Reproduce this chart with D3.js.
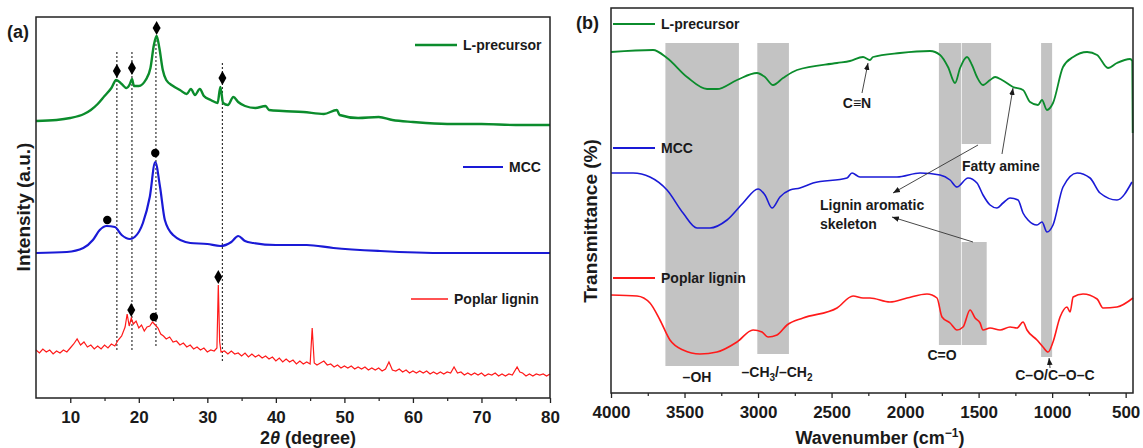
<!DOCTYPE html>
<html>
<head>
<script src="https://d3js.org/d3.v7.min.js"></script>
<style>
body { margin: 0; background: #fff; }
text { font-family: "Liberation Sans", Arial, sans-serif; font-weight: bold; fill: #1a1a1a; }
</style>
</head>
<body>
<script>
// ---- (a) XRD data: [2theta, intensity a.u.] ----
var xrdTicks = [10, 20, 30, 40, 50, 60, 70, 80];
var xrdMinor = [15, 25, 35, 45, 55, 65, 75];
var xrdGreen = [[5,138.5],[8,139],[10,140],[12,142],[13,144],[14,147],[15,151],[16,155],[16.7,159],[17.5,157],
  [18.2,155],[18.7,157],[19.0,159.5],[19.3,156],[20,156],[21,159],[21.7,165],[22.2,176.5],[22.6,181],[23.0,175],
  [23.5,164],[24,159],[25,156],[26,154],[27,152],[27.6,154.5],[28.2,151.5],[28.9,154.5],[29.5,151],[30.5,149],
  [31.5,147.5],[31.9,155.5],[32.3,147.5],[33,146.5],[33.8,150.5],[34.5,148],[35.5,146],[37,145],[38.5,146],[39,144],
  [41,143.5],[44,143],[47,142],[48.9,144],[49.3,141.5],[52,140],[55,140.5],[57,139],[60,138],[65,137],[70,137],
  [75,136.5],[80,136.5]];
var xrdBlue = [[5,72.5],[9.5,73],[11.9,75],[13.3,79],[14.3,84],[15.3,86],[16.5,85.5],[17.5,81.5],[18.7,79.5],
  [19.4,80.5],[20.6,87.5],[21.6,100.5],[22.4,118],[23.1,105.5],[23.8,89],[25,81.5],[27.5,77.5],[30,77],[31.9,76],
  [33.5,78],[34.5,81],[35.5,78.5],[36.7,77.5],[40,76.5],[44.5,76.5],[48.4,75],[55.2,73.5],[65,72.5],[80,72.5]];
var xrdRed = [[5,24],[5.5,22.5],[6,24.5],[6.5,23],[7,24],[7.5,22],[8,23.5],[8.5,22.5],[9,24],[9.5,23],[10,25],
  [10.5,27],[11,29.5],[11.5,26.5],[12,28],[12.5,25.5],[13,26.5],[13.5,24.5],[14,26],[14.5,24.5],[15,26.5],[15.5,25],
  [16,27],[16.5,26],[17,29],[17.5,31],[18,35.5],[18.3,42],[18.6,36],[18.9,40],[19.2,37],[19.6,38.5],[20,35],
  [20.4,36.5],[20.8,33.5],[21.2,35.5],[21.6,36],[22,38],[22.4,36.5],[22.8,35],[23.2,32],[23.6,31],[24,29.5],
  [24.5,30.5],[25,28],[25.5,28.5],[26,26.5],[26.5,27.5],[27,25.5],[27.5,26.5],[28,24.5],[28.5,25.5],[29,24],
  [29.5,25],[30,23],[30.5,24],[31,23.5],[31.4,25],[31.6,56.5],[31.8,28],[32,23],[32.5,23.5],[33,22],[33.5,23.5],
  [34,22],[34.5,22.5],[35,21],[35.5,22.5],[36,20.5],[36.5,22],[37,20.5],[37.5,21.5],[38,20],[38.5,21],[39,19.5],
  [39.5,20.5],[40,18.5],[40.5,20],[41,18],[41.5,19.5],[42,18],[42.5,19],[43,17],[43.5,18.5],[44,17],[44.5,18],
  [45,17],[45.3,35],[45.6,17.5],[46,16.5],[46.5,17.5],[47,18.5],[47.5,16.5],[48,17],[48.5,15.5],[49,16.5],[49.5,15],
  [50,16],[50.5,15],[51,16],[51.5,14.5],[52,15.5],[52.5,14.5],[53,15.5],[53.5,14],[54,15],[54.5,14],[55,15],
  [55.5,13.5],[56,14.5],[56.5,18],[57,14],[57.5,13.5],[58,14.5],[58.5,13],[59,14],[59.5,12.5],[60,13.5],[60.5,12.5],
  [61,13.5],[61.5,12.5],[62,13.5],[62.5,12],[63,13],[63.5,12],[64,13],[64.5,12],[65,13],[65.5,12.5],[66,15.5],
  [66.5,12.5],[67,13],[67.5,11.5],[68,12.5],[68.5,11.5],[69,12.5],[69.5,11.5],[70,12.5],[70.5,11],[71,12],
  [71.5,11.5],[72,12.5],[72.5,11],[73,12],[73.5,11],[74,12],[74.5,11.5],[75.2,15.5],[75.6,13],[76,12.5],[76.5,11],
  [77,12],[77.5,11],[78,12],[78.5,11.5],[79,12],[79.5,11],[80,12]];
var xrdDiamonds = [[16.8,163.5],[19.0,165],[22.6,185],[32.2,160],[18.9,44],[31.6,60.5]];
var xrdCircles = [[15.4,89],[22.4,122.5],[22.2,40.5]];
var xrdGuides = [[16.8,173,23],[19.0,173,23],[22.5,179,25],[32.2,167.5,18]];

// ---- (b) FTIR data: [wavenumber, transmittance a.u.] ----
var ftirTicks = [4000, 3500, 3000, 2500, 2000, 1500, 1000, 500];
var ftirMinor = [3750, 3250, 2750, 2250, 1750, 1250, 750];
var ftirGreen = [[4000,170.5],[3714,171.5],[3619,167.5],[3483,158],[3347,152],[3279,152],[3143,156.5],[3007,160],
  [2953,158],[2898,154],[2830,157.5],[2735,161.5],[2463,165],[2375,166],[2286,168],[2239,166.5],[2218,168],
  [2035,170],[1830,171],[1762,169],[1708,163],[1660,155],[1626,162.5],[1579,168],[1545,164],[1511,158],[1470,154],
  [1422,156.5],[1388,158],[1341,156.5],[1266,153],[1198,151.5],[1150,145.5],[1096,144],[1069,146.5],[1035,141.5],
  [994,145],[926,163],[857,168],[762,170.5],[694,169],[620,162.5],[559,165],[470,167],[455,166],[452,130]];
var ftirBlue = [[4000,110],[3850,110],[3735,108],[3619,101.5],[3510,90],[3415,82.5],[3327,82.5],[3211,86.5],
  [3102,95],[3000,102],[2953,99],[2905,92.5],[2851,98],[2783,101.5],[2715,102.5],[2626,105],[2395,107.5],[2361,110],
  [2307,108],[2055,108],[1898,110],[1762,109],[1694,106.5],[1647,103],[1572,107.5],[1511,105],[1470,99],[1422,94],
  [1375,92.5],[1334,95],[1286,97.5],[1232,96.5],[1198,90],[1164,86.5],[1103,84],[1069,85.5],[1035,80.5],[994,84],
  [926,103],[830,110],[742,107.5],[674,100],[559,96.5],[457,105.5]];
var ftirRed = [[4000,49],[3823,48.5],[3735,45],[3667,36.5],[3599,26.5],[3510,21.5],[3395,19.5],[3279,20.5],
  [3143,25.5],[3034,31.5],[2973,30.5],[2932,28],[2871,29],[2803,34],[2694,37.5],[2463,42.5],[2354,48.5],[2286,47.5],
  [2239,47.5],[2103,45.5],[1987,47.5],[1851,49.5],[1783,47.5],[1749,38],[1694,35],[1647,31.5],[1606,33],[1558,41.5],
  [1524,37.5],[1490,35],[1470,31.5],[1422,32.5],[1354,31.5],[1286,33],[1239,32.5],[1198,35.5],[1171,31.5],
  [1103,26.5],[1062,23],[1028,20.5],[994,25.5],[946,38],[899,43],[878,40.5],[857,48],[790,49.5],[694,47],
  [654,42.5],[559,43],[450,47.5]];
// bands: [from, to, top, bottom]
var ftirBands = [[3630,3130,175,13.5],[3005,2790,175,19.5],[1770,1620,175,24],[1615,1415,175,124.5],
  [1615,1445,75.5,24],[1075,1000,175,18]];
var ftirArrows = [[2293,150,2252,165],[1341,119.5,1266,152.5],[1504,124,2082,100],[1538,75.5,2089,88],
  [1014,12.5,1021,17.5]];

var W = 1143, H = 448;
var svg = d3.select("body").append("svg").attr("width", W).attr("height", H);

svg.append("defs").append("marker")
  .attr("id", "arr").attr("viewBox", "0 0 10 10").attr("refX", 10).attr("refY", 5)
  .attr("markerWidth", 7).attr("markerHeight", 7).attr("markerUnits", "userSpaceOnUse")
  .attr("orient", "auto")
  .append("path").attr("d", "M0,1 L10,5 L0,9 z").attr("fill", "#1a1a1a");

var green = "#0b8c2c", blue = "#1a1ad6", red = "#ff1a1a";

function drawAxis(g, x, ticks, minor, y0) {
  g.append("g").attr("transform", "translate(0," + y0 + ")")
    .call(d3.axisBottom(x).tickValues(ticks).tickSize(5).tickPadding(8).tickFormat(d3.format("d")))
    .call(function(a) {
      a.select(".domain").remove();
      a.selectAll("line").attr("stroke", "#222").attr("stroke-width", 1.3);
      a.selectAll("text").style("font-size", "17px").attr("fill", "#1a1a1a");
    });
  g.append("g").attr("transform", "translate(0," + y0 + ")")
    .call(d3.axisBottom(x).tickValues(minor).tickSize(3).tickFormat(""))
    .call(function(a) {
      a.select(".domain").remove();
      a.selectAll("line").attr("stroke", "#222").attr("stroke-width", 1.2);
    });
}

// ================= panel (a) =================
var xa = d3.scaleLinear().domain([5, 80]).range([36, 550]);
var ya = d3.scaleLinear().domain([0, 190.5]).range([398, 17]);
var ga = svg.append("g");

ga.selectAll(".guide").data(xrdGuides).enter().append("line")
  .attr("x1", function(d) { return xa(d[0]); }).attr("x2", function(d) { return xa(d[0]); })
  .attr("y1", function(d) { return ya(d[1]); }).attr("y2", function(d) { return ya(d[2]); })
  .attr("stroke", "#333").attr("stroke-width", 1.2).attr("stroke-dasharray", "2,2");

var lineA = d3.line().x(function(d) { return xa(d[0]); }).y(function(d) { return ya(d[1]); });
var lineAs = d3.line().curve(d3.curveMonotoneX).x(function(d) { return xa(d[0]); }).y(function(d) { return ya(d[1]); });

ga.append("path").attr("d", lineA(xrdRed)).attr("fill", "none").attr("stroke", red).attr("stroke-width", 1.2);
ga.append("path").attr("d", lineAs(xrdBlue)).attr("fill", "none").attr("stroke", blue).attr("stroke-width", 2.2);
ga.append("path").attr("d", lineAs(xrdGreen)).attr("fill", "none").attr("stroke", green).attr("stroke-width", 2.4);

ga.selectAll(".dia").data(xrdDiamonds).enter().append("path")
  .attr("d", d3.symbol().type(d3.symbolDiamond).size(55))
  .attr("transform", function(d) { return "translate(" + xa(d[0]) + "," + ya(d[1]) + ")"; })
  .attr("fill", "#000");
ga.selectAll(".dot").data(xrdCircles).enter().append("circle")
  .attr("cx", function(d) { return xa(d[0]); }).attr("cy", function(d) { return ya(d[1]); })
  .attr("r", 4.2).attr("fill", "#000");

ga.append("rect").attr("x", 36).attr("y", 17).attr("width", 514).attr("height", 381)
  .attr("fill", "none").attr("stroke", "#222").attr("stroke-width", 1.5);
drawAxis(ga, xa, xrdTicks, xrdMinor, 398);

var legA = [["L-precursor", green, 415, 457, 45, 2.4], ["MCC", blue, 463, 503, 167, 2.2], ["Poplar lignin", red, 411, 448, 299, 1.5]];
legA.forEach(function(l) {
  ga.append("line").attr("x1", l[2]).attr("x2", l[3]).attr("y1", l[4]).attr("y2", l[4])
    .attr("stroke", l[1]).attr("stroke-width", l[5]);
  ga.append("text").attr("x", l[3] + 6).attr("y", l[4] + 5).style("font-size", "14px").text(l[0]);
});

ga.append("text").attr("x", 7).attr("y", 38).style("font-size", "18px").text("(a)");
var ta = ga.append("text").attr("x", 308).attr("y", 444).attr("text-anchor", "middle").style("font-size", "18px");
ta.append("tspan").text("2");
ta.append("tspan").style("font-style", "italic").text("\u03B8");
ta.append("tspan").text(" (degree)");
ga.append("text").attr("transform", "translate(30,207) rotate(-90)").attr("text-anchor", "middle")
  .style("font-size", "19px").text("Intensity (a.u.)");

// ================= panel (b) =================
var xb = d3.scaleLinear().domain([4000, 450]).range([611, 1133]);
var yb = d3.scaleLinear().domain([0, 192.5]).range([393, 8]);
var gb = svg.append("g");

gb.selectAll(".band").data(ftirBands).enter().append("rect")
  .attr("x", function(d) { return xb(d[0]); })
  .attr("width", function(d) { return xb(d[1]) - xb(d[0]); })
  .attr("y", function(d) { return yb(d[2]); })
  .attr("height", function(d) { return yb(d[3]) - yb(d[2]); })
  .attr("fill", "#c3c3c3");

var lineB = d3.line().curve(d3.curveMonotoneX).x(function(d) { return xb(d[0]); }).y(function(d) { return yb(d[1]); });
gb.append("path").attr("d", lineB(ftirRed)).attr("fill", "none").attr("stroke", red).attr("stroke-width", 1.6);
gb.append("path").attr("d", lineB(ftirBlue)).attr("fill", "none").attr("stroke", blue).attr("stroke-width", 1.6);
gb.append("path").attr("d", lineB(ftirGreen)).attr("fill", "none").attr("stroke", green).attr("stroke-width", 1.8);

gb.selectAll(".arrow").data(ftirArrows).enter().append("line")
  .attr("x1", function(d) { return xb(d[0]); }).attr("y1", function(d) { return yb(d[1]); })
  .attr("x2", function(d) { return xb(d[2]); }).attr("y2", function(d) { return yb(d[3]); })
  .attr("stroke", "#333").attr("stroke-width", 0.9).attr("marker-end", "url(#arr)");

gb.append("rect").attr("x", 611).attr("y", 8).attr("width", 522).attr("height", 385)
  .attr("fill", "none").attr("stroke", "#222").attr("stroke-width", 1.5);
drawAxis(gb, xb, ftirTicks, ftirMinor, 393);

var legB = [["L-precursor", green, 24], ["MCC", blue, 148], ["Poplar lignin", red, 278]];
legB.forEach(function(l) {
  gb.append("line").attr("x1", 613).attr("x2", 655).attr("y1", l[2]).attr("y2", l[2])
    .attr("stroke", l[1]).attr("stroke-width", 2);
  gb.append("text").attr("x", 661).attr("y", l[2] + 5).style("font-size", "14px").text(l[0]);
});

// annotations [wavenumber, value, text, anchor]
var notes = [[2327, 142.5, "C\u2261N", "middle"], [1613, 111, "Fatty amine", "start"],
  [2579, 91.5, "Lignin aromatic", "start"], [2579, 82, "skeleton", "start"],
  [1749, 16.5, "C=O", "middle"], [981, 6.5, "C\u2013O/C\u2013O\u2013C", "middle"],
  [3415, 5.5, "\u2013OH", "middle"]];
notes.forEach(function(n) {
  gb.append("text").attr("x", xb(n[0])).attr("y", yb(n[1])).attr("text-anchor", n[3])
    .style("font-size", "14px").text(n[2]);
});
var ch = gb.append("text").attr("x", xb(2871)).attr("y", yb(8)).attr("text-anchor", "middle").style("font-size", "14px");
ch.append("tspan").text("\u2013CH");
ch.append("tspan").attr("dy", 4).style("font-size", "10px").text("3");
ch.append("tspan").attr("dy", -4).text("/\u2013CH");
ch.append("tspan").attr("dy", 4).style("font-size", "10px").text("2");

gb.append("text").attr("x", 576).attr("y", 29).style("font-size", "18px").text("(b)");
var tb = gb.append("text").attr("x", 880).attr("y", 444).attr("text-anchor", "middle").style("font-size", "18px");
tb.append("tspan").text("Wavenumber (cm");
tb.append("tspan").attr("dy", -7).style("font-size", "12px").text("\u22121");
tb.append("tspan").attr("dy", 7).text(")");
gb.append("text").attr("transform", "translate(597,221) rotate(-90)").attr("text-anchor", "middle")
  .style("font-size", "19px").text("Transmittance (%)");
</script>
</body>
</html>
